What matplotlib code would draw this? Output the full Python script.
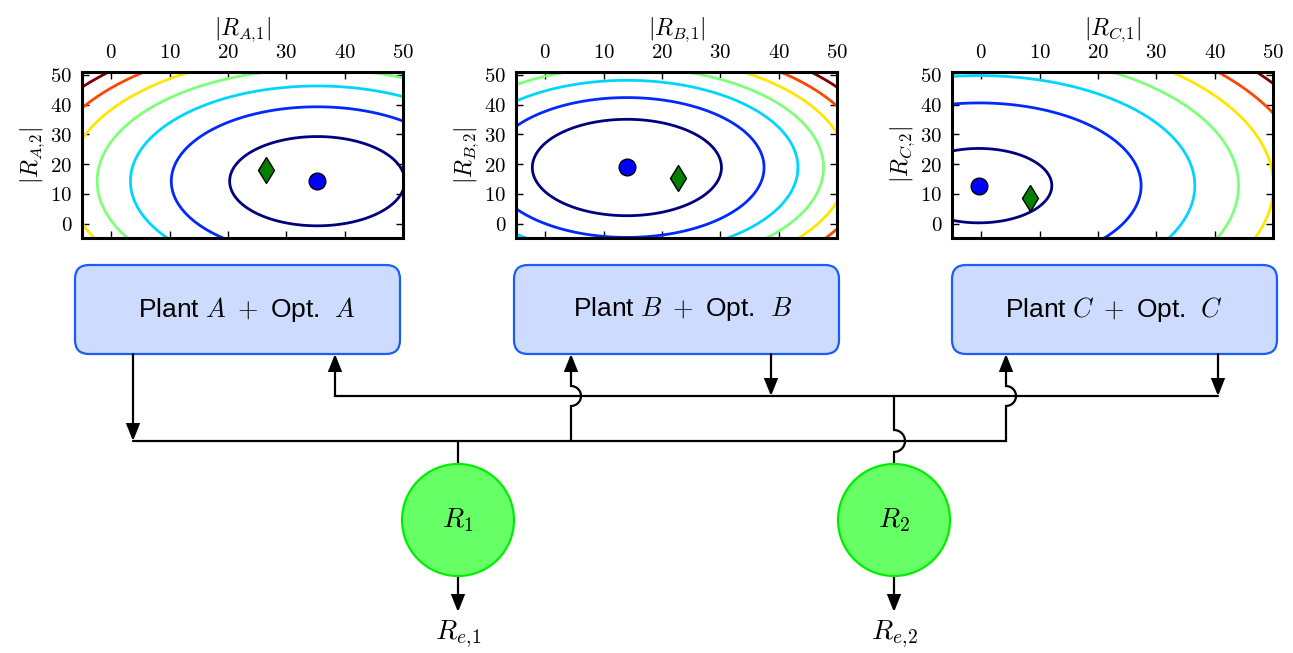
import numpy as np
import matplotlib
matplotlib.use('Agg')
import matplotlib.pyplot as plt
from matplotlib.patches import FancyBboxPatch, Circle, FancyArrowPatch
from matplotlib.path import Path

plt.rcParams['mathtext.fontset'] = 'cm'
plt.rcParams['font.family'] = ['Liberation Sans', 'DejaVu Sans']

W, H = 1293, 653

# values
plants = ['A', 'B', 'C']
opt_x = [35.3, 14.0, -0.4]      # blue dot (optimum)
opt_y = [14.3, 18.9, 12.8]
cur_x = [26.5, 22.8, 8.3]       # green diamond
cur_y = [18.1, 15.4, 8.6]
level_radii = [
    [15.0, 25.0, 32.0, 37.7, 42.7, 47.2, 51.2],
    [16.2, 23.5, 29.3, 33.7, 37.8, 41.5, 45.0],
    [12.5, 27.8, 37.0, 44.5, 50.5, 56.0, 61.0],
]
tick_vals = [0, 10, 20, 30, 40, 50]
tick_labels = ['$%d$' % t for t in tick_vals]
resources = ['$R_1$', '$R_2$']
outputs = [r'$R_{e,\!1}$', r'$R_{e,\!2}$']

fig = plt.figure(figsize=(W / 100, H / 100), dpi=100)

# diagram layer in pixel coordinates
ax0 = fig.add_axes([0, 0, 1, 1])
ax0.set_xlim(0, W)
ax0.set_ylim(H, 0)
ax0.axis('off')

box_left = [75, 514, 952]
box_text_x = [247, 683, 1114]
for i, p in enumerate(plants):
    box = FancyBboxPatch((box_left[i], 265), 325, 89,
                         boxstyle='round,pad=0,rounding_size=14',
                         fc='#cddbfe', ec='#1a5cff', lw=1.6)
    ax0.add_patch(box)
    ax0.text(box_text_x[i], 309, r'Plant $%s\ +$ Opt. $\ %s$' % (p, p),
             ha='center', va='center', fontsize=19)

circ_x = [458, 894]
for i in range(2):
    ax0.add_patch(Circle((circ_x[i], 520), 56, fc='#66ff66', ec='#00ee00', lw=1.6, zorder=3))
    ax0.text(circ_x[i], 520, resources[i], ha='center', va='center', fontsize=20, zorder=4)
    ax0.text(circ_x[i], 634, outputs[i], ha='center', va='center', fontsize=20)


def hump(x, yc, r=10):
    # small jump where a wire crosses a bus
    t = np.linspace(0, np.pi, 20)
    return list(zip(x + r * np.sin(t), yc + r * np.cos(t)))


def wire(pts, arrow=False):
    style = '-|>,head_length=1.0,head_width=0.4' if arrow else '-'
    ax0.add_patch(FancyArrowPatch(path=Path(pts), arrowstyle=style, mutation_scale=10,
                                  color='black', lw=1.6, joinstyle='miter'))


# lower bus (y=441) and upper bus (y=396)
wire([(133, 354), (133, 441)], arrow=True)
wire([(133, 441), (1006, 441), (1006, 406)] + hump(1006, 396) + [(1006, 354)], arrow=True)
wire([(571, 441), (571, 406)] + hump(571, 396) + [(571, 354)], arrow=True)
wire([(458, 441), (458, 464)])
wire([(1218, 396), (335, 396), (335, 354)], arrow=True)
wire([(771, 354), (771, 396)], arrow=True)
wire([(1218, 354), (1218, 396)], arrow=True)
wire([(894, 396), (894, 430)] + hump(894, 441, 11)[::-1] + [(894, 464)])
for x in circ_x:
    wire([(x, 576), (x, 612)], arrow=True)

# contour panels
ax_left = [82, 516, 952]
xg = np.linspace(-5, 50, 300)
yg = np.linspace(-5, 52, 300)
X, Y = np.meshgrid(xg, yg)
cols = plt.cm.jet(np.linspace(0, 1, 7))
for i, p in enumerate(plants):
    ax = fig.add_axes([ax_left[i] / W, 1 - 238 / H, 321 / W, 166 / H])
    Z = np.hypot(X - opt_x[i], Y - opt_y[i])
    ax.contour(X, Y, Z, levels=level_radii[i], colors=cols, linewidths=2)
    ax.plot(opt_x[i], opt_y[i], 'o', color='blue', mec='black', ms=12)
    ax.plot(cur_x[i], cur_y[i], 'd', color='#007f00', mec='black', ms=13)
    ax.set_xlim(-5, 50)
    ax.set_ylim(-4.8, 51)
    ax.set_xticks(tick_vals)
    ax.set_xticklabels(tick_labels)
    ax.set_yticks(tick_vals)
    ax.set_yticklabels(tick_labels)
    ax.tick_params(direction='in', top=True, right=True, labeltop=True,
                   labelbottom=False, length=5, width=1, labelsize=15, pad=7)
    ax.xaxis.set_label_position('top')
    ax.set_xlabel(r'$|R_{%s,\!1}|$' % p, fontsize=17, labelpad=6)
    ax.set_ylabel(r'$|R_{%s,\!2}|$' % p, fontsize=17, labelpad=2)
    for s in ax.spines.values():
        s.set_linewidth(2.2)

fig.savefig('out.png', dpi=100)
